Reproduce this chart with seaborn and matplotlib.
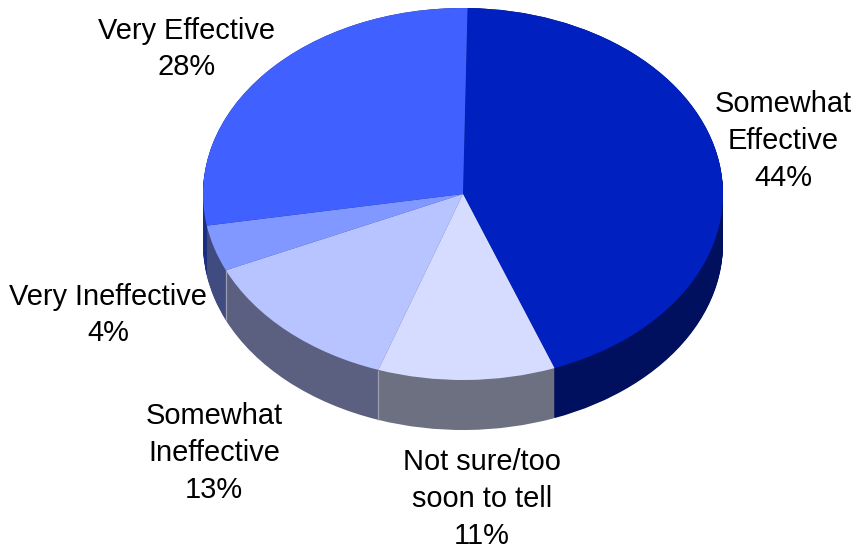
import matplotlib
matplotlib.use("Agg")
import matplotlib.pyplot as plt
import numpy as np
import seaborn as sns

categories = ["Somewhat\nEffective", "Not sure/too\nsoon to tell", "Somewhat\nIneffective",
              "Very Ineffective", "Very Effective"]
shares = [44, 11, 13, 4, 28]
top_colors = ["#0020C0", "#D6DCFF", "#B8C4FF", "#8098FF", "#4060FF"]
side_colors = ["#00105E", "#6C7080", "#5C6080", "#404C80", "#1C2E80"]

sns.set_theme(style="white")
plt.rcParams["font.family"] = ["Liberation Sans", "DejaVu Sans"]

W, H = 857, 548
fig = plt.figure(figsize=(W / 100, H / 100), dpi=100, facecolor="white")
ax = fig.add_axes([0, 0, 1, 1])
ax.axis("off")

# Screen geometry of the tilted disc, in pixels
cx, cy, rx, ry, depth_px = 463, 194, 260, 186, 50
START = 89
depth = depth_px / ry

# Rim: stacked copies of the pie, lowest first
for off in np.linspace(depth, 0.0, 60):
    ax.pie(shares, colors=side_colors, startangle=START, counterclock=False,
           center=(0, -off), radius=1, wedgeprops=dict(linewidth=0), frame=False)

# Top face
wedges, _ = ax.pie(shares, colors=top_colors, startangle=START, counterclock=False,
                   center=(0, 0), radius=1, wedgeprops=dict(linewidth=0), frame=False)

# Pale seams on the rim where the lighter slices meet
for w in wedges[1:3]:
    a = np.deg2rad(w.theta1)
    ax.plot([np.cos(a)] * 2, [np.sin(a), np.sin(a) - depth],
            color="#9A9EB0", lw=0.9, solid_capstyle="butt", zorder=5)

# Stretch the unit disc into the ellipse on screen
ax.set_aspect("auto")
ax.set_xlim(-cx / rx, (W - cx) / rx)
ax.set_ylim(-(H - cy) / ry, cy / ry)

label_centres = [(783, 141), (482, 499), (214, 453), (108, 315), (187, 49)]
for name, share, (px, py) in zip(categories, shares, label_centres):
    fig.text(px / W, 1 - py / H, f"{name}\n{share}%", ha="center", va="center",
             ma="center", fontsize=20.9, color="black", linespacing=1.39)

fig.savefig("out.png", dpi=100, facecolor="white")
